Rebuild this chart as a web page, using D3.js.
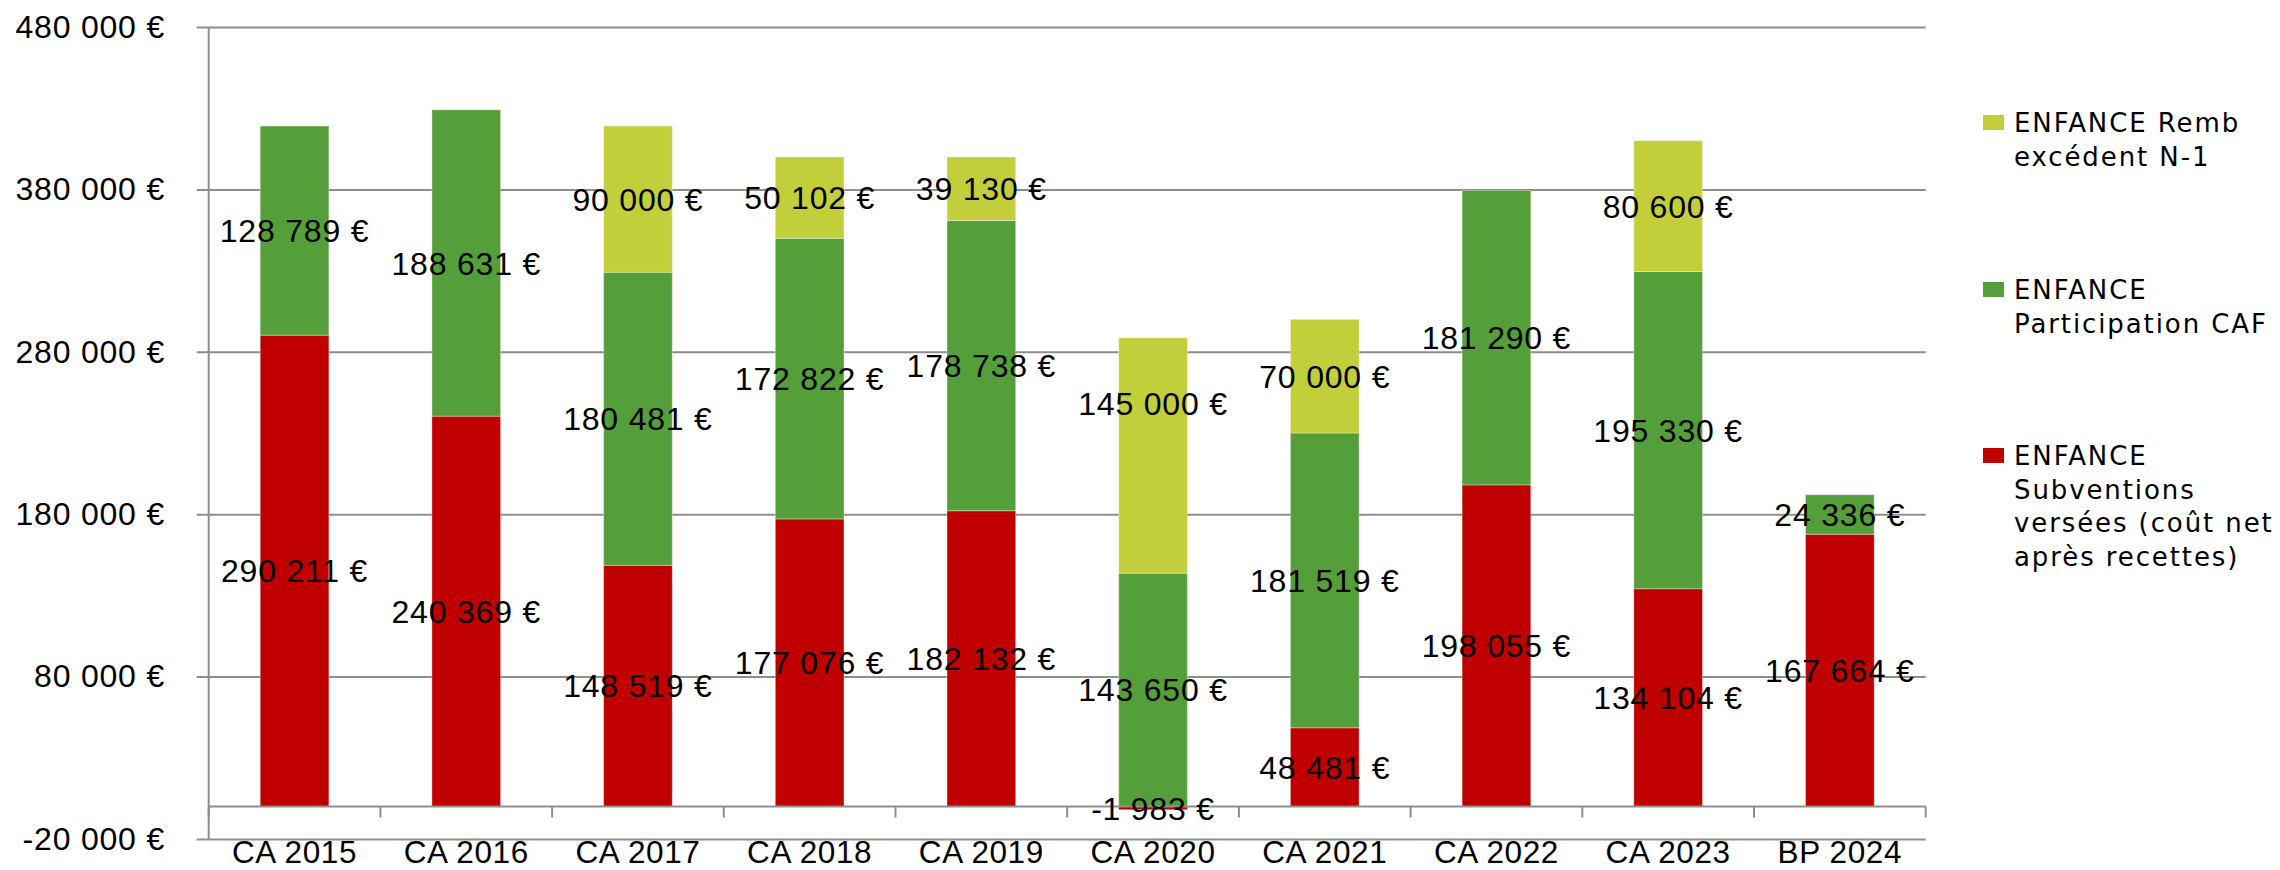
<!DOCTYPE html>
<html>
<head>
<meta charset="utf-8">
<script src="https://cdn.jsdelivr.net/npm/d3@7"></script>
<style>
  body { margin: 0; background: #fff; }
  svg { display: block; }
</style>
</head>
<body>
<div id="chart"></div>
<script>
// categories and series
var categories = ["CA 2015", "CA 2016", "CA 2017", "CA 2018", "CA 2019", "CA 2020", "CA 2021", "CA 2022", "CA 2023", "BP 2024"];
var subventions = [290211, 240369, 148519, 177076, 182132, -1983, 48481, 198055, 134104, 167664];
var participationCaf = [128789, 188631, 180481, 172822, 178738, 143650, 181519, 181290, 195330, 24336];
var rembExcedent = [null, null, 90000, 50102, 39130, 145000, 70000, null, 80600, null];
var yTicks = [-20000, 80000, 180000, 280000, 380000, 480000];

var seriesNames = [
    ["ENFANCE Remb", "excédent N-1"],
    ["ENFANCE", "Participation CAF"],
    ["ENFANCE", "Subventions", "versées (coût net", "après recettes)"]
];
var colors = { sub: "#c00000", caf: "#549f3a", remb: "#c2cf3a" };

var w = 2280, h = 870;
var x0 = 208.7, x1 = 1925.7;
var gridCol = "#8e8e8e";
var numFont = "'Liberation Sans', Arial, sans-serif";

var svg = d3.select("#chart").append("svg")
    .attr("width", w)
    .attr("height", h);

var y = d3.scaleLinear()
    .domain([-20000, 480000])
    .range([839, 27]);

var x = d3.scaleBand()
    .domain(categories)
    .range([x0, x1])
    .paddingInner(0.6)
    .paddingOuter(0.3);

var rows = categories.map(function (c, i) {
    return { cat: c, sub: subventions[i], caf: participationCaf[i], remb: rembExcedent[i] || 0 };
});

var stack = d3.stack()
    .keys(["sub", "caf", "remb"])
    .offset(d3.stackOffsetDiverging);
var layers = stack(rows);

var fmt = function (v) {
    var s = d3.format(",")(Math.abs(v)).replace(/,/g, " ");
    return (v < 0 ? "-" : "") + s + " €";
};

// gridlines + y ticks
var yaxis = d3.axisLeft(y)
    .tickValues(yTicks)
    .tickSize(-(x1 - x0) - 12)
    .tickFormat(fmt);
var gY = svg.append("g")
    .attr("transform", "translate(" + (x0 - 12) + ",0)")
    .call(yaxis);
gY.select(".domain").remove();
gY.selectAll(".tick line")
    .attr("x1", 0)
    .attr("x2", x1 - x0 + 12)
    .attr("stroke", gridCol)
    .attr("stroke-width", 2);
gY.selectAll(".tick text")
    .attr("x", 165 - (x0 - 12))
    .attr("font-family", numFont)
    .attr("font-size", 32)
    .attr("letter-spacing", 0.8)
    .attr("fill", "#000");

// vertical axis line
svg.append("line")
    .attr("x1", x0).attr("x2", x0)
    .attr("y1", y(480000)).attr("y2", y(-20000))
    .attr("stroke", gridCol)
    .attr("stroke-width", 2);

// bars
var layer = svg.selectAll("g.layer")
    .data(layers)
    .enter().append("g")
    .attr("class", "layer")
    .attr("fill", function (d) { return colors[d.key]; });

layer.selectAll("rect")
    .data(function (d) { return d.filter(function (p) { return p[1] - p[0] !== 0; }); })
    .enter().append("rect")
    .attr("x", function (d) { return x(d.data.cat); })
    .attr("width", x.bandwidth())
    .attr("y", function (d) { return y(Math.max(d[0], d[1])); })
    .attr("height", function (d) { return Math.abs(y(d[0]) - y(d[1])); })
    .attr("stroke", "rgba(255,255,255,0.35)")
    .attr("stroke-width", 1);

// category axis at zero
var xaxisLine = svg.append("g");
xaxisLine.append("line")
    .attr("x1", x0).attr("x2", x1)
    .attr("y1", y(0)).attr("y2", y(0))
    .attr("stroke", gridCol)
    .attr("stroke-width", 2);
var bounds = d3.range(categories.length + 1).map(function (i) { return x0 + i * x.step(); });
xaxisLine.selectAll("line.tk")
    .data(bounds)
    .enter().append("line")
    .attr("class", "tk")
    .attr("x1", function (d) { return d; })
    .attr("x2", function (d) { return d; })
    .attr("y1", y(0))
    .attr("y2", y(0) + 11)
    .attr("stroke", gridCol)
    .attr("stroke-width", 2);

svg.selectAll("text.cat")
    .data(categories)
    .enter().append("text")
    .attr("class", "cat")
    .attr("x", function (d) { return x(d) + x.bandwidth() / 2; })
    .attr("y", 863)
    .attr("text-anchor", "middle")
    .attr("font-family", numFont)
    .attr("font-size", 31.5)
    .attr("letter-spacing", 0.6)
    .text(function (d) { return d; });

// data labels, centred in each segment (one was dragged up by hand in the original)
var labelNudge = { "remb|CA 2020": -52 };
layers.forEach(function (l) {
    svg.selectAll(null)
        .data(l.filter(function (p) { return p[1] - p[0] !== 0; }))
        .enter().append("text")
        .attr("x", function (d) { return x(d.data.cat) + x.bandwidth() / 2; })
        .attr("y", function (d) {
            return y((d[0] + d[1]) / 2) + (labelNudge[l.key + "|" + d.data.cat] || 0);
        })
        .attr("dy", "0.36em")
        .attr("text-anchor", "middle")
        .attr("font-family", numFont)
        .attr("font-size", 32)
        .attr("letter-spacing", 0.8)
        .text(function (d) { return fmt(d.data[l.key]); });
});

// legend
var legTop = [115, 282, 448];
var legCols = [colors.remb, colors.caf, colors.sub];
var leg = svg.selectAll("g.leg")
    .data(seriesNames)
    .enter().append("g")
    .attr("class", "leg")
    .attr("transform", function (d, i) { return "translate(1983," + legTop[i] + ")"; });
leg.append("rect")
    .attr("width", 21)
    .attr("height", 15)
    .attr("fill", function (d, i) { return legCols[i]; });
leg.append("text")
    .attr("font-family", "'DejaVu Sans', sans-serif")
    .attr("font-size", 26)
    .attr("letter-spacing", 1.9)
    .selectAll("tspan")
    .data(function (d) { return d; })
    .enter().append("tspan")
    .attr("x", 31)
    .attr("y", function (d, i) { return 17 + i * 33.7; })
    .text(function (d) { return d; });
</script>
</body>
</html>
